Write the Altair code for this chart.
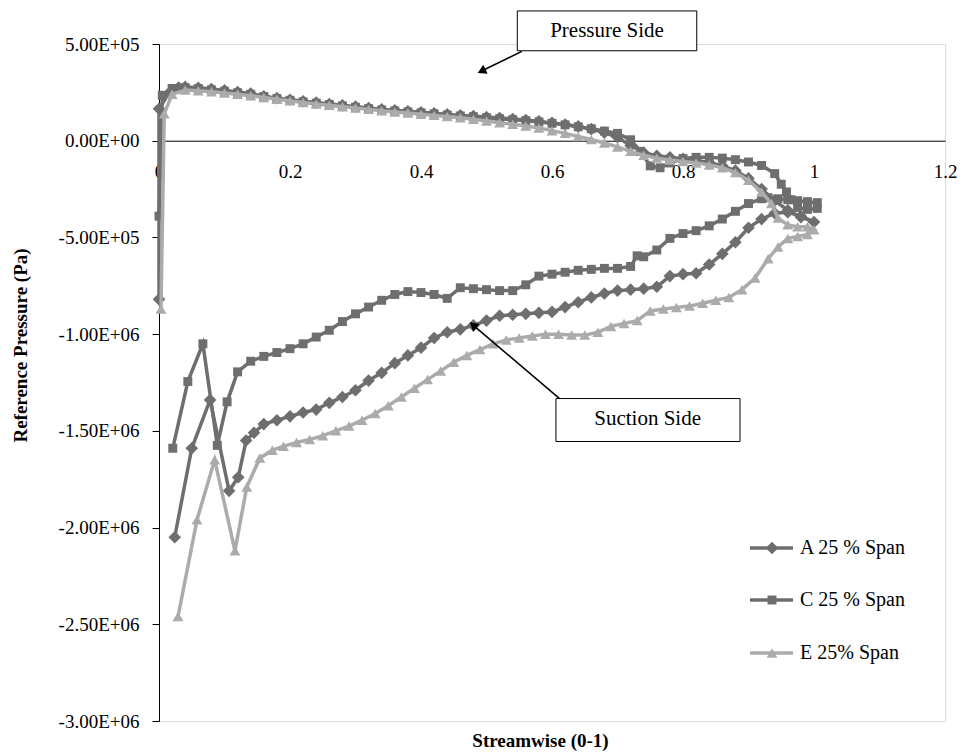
import altair as alt
import pandas as pd

SERIES = ["A 25 % Span", "C 25 % Span", "E 25% Span"]

# ---- data (streamwise position, reference pressure in Pa), in drawing order ----
A_X = [0.000, 0.000, 0.015, 0.030,
       0.04, 0.06, 0.08, 0.10, 0.12, 0.14, 0.16, 0.18, 0.20, 0.22, 0.24, 0.26, 0.28, 0.30,
       0.32, 0.34, 0.36, 0.38, 0.40, 0.42, 0.44, 0.46, 0.48, 0.50, 0.52, 0.54, 0.56, 0.58,
       0.60, 0.62, 0.64, 0.66, 0.68, 0.70, 0.72, 0.74, 0.76, 0.78, 0.80, 0.82, 0.84, 0.86,
       0.88, 0.90, 0.92, 0.94, 0.96, 0.98, 1.00,
       0.98, 0.96, 0.94, 0.92, 0.90, 0.88, 0.86, 0.84, 0.82, 0.80, 0.78, 0.76, 0.74, 0.72,
       0.70, 0.68, 0.66, 0.64, 0.62, 0.60, 0.58, 0.56, 0.54, 0.52, 0.50, 0.48, 0.46, 0.44,
       0.42, 0.40, 0.38, 0.36, 0.34, 0.32, 0.30, 0.28, 0.26, 0.24, 0.22, 0.20, 0.18, 0.16,
       0.145, 0.133, 0.121, 0.107, 0.078, 0.050, 0.024]
A_P = [-8.2e5, 1.65e5, 2.45e5, 2.75e5,
       2.78e5, 2.74e5, 2.67e5, 2.60e5, 2.52e5, 2.44e5, 2.30e5, 2.20e5, 2.12e5, 2.04e5, 1.97e5, 1.90e5, 1.83e5, 1.76e5,
       1.69e5, 1.62e5, 1.57e5, 1.52e5, 1.47e5, 1.42e5, 1.36e5, 1.31e5, 1.27e5, 1.22e5, 1.17e5, 1.12e5, 1.07e5, 1.00e5,
       0.92e5, 0.84e5, 0.74e5, 0.60e5, 0.42e5, 0.18e5, -0.25e5, -0.62e5, -0.78e5, -0.86e5, -0.93e5, -1.02e5, -1.12e5, -1.30e5,
       -1.55e5, -1.95e5, -2.50e5, -3.10e5, -3.60e5, -3.95e5, -4.20e5,
       -3.90e5, -3.70e5, -3.75e5, -4.05e5, -4.50e5, -5.25e5, -5.85e5, -6.40e5, -6.85e5, -6.90e5, -7.00e5, -7.55e5, -7.65e5, -7.70e5,
       -7.75e5, -7.90e5, -8.10e5, -8.35e5, -8.60e5, -8.85e5, -8.90e5, -8.95e5, -9.00e5, -9.05e5, -9.30e5, -9.55e5, -9.75e5, -9.90e5,
       -1.02e6, -1.07e6, -1.11e6, -1.15e6, -1.20e6, -1.24e6, -1.29e6, -1.325e6, -1.355e6, -1.39e6, -1.405e6, -1.425e6, -1.445e6, -1.465e6,
       -1.51e6, -1.55e6, -1.74e6, -1.81e6, -1.34e6, -1.59e6, -2.05e6]

C_X = [0.000, 0.005, 0.020,
       0.04, 0.06, 0.08, 0.10, 0.12, 0.14, 0.16, 0.18, 0.20, 0.22, 0.24, 0.26, 0.28, 0.30,
       0.32, 0.34, 0.36, 0.38, 0.40, 0.42, 0.44, 0.46, 0.48, 0.50, 0.52, 0.54, 0.56, 0.58,
       0.60, 0.62, 0.64, 0.66, 0.68, 0.70,
       0.72, 0.735, 0.75, 0.765, 0.78, 0.80, 0.82, 0.84, 0.86, 0.88, 0.90, 0.92, 0.94, 0.95,
       0.958, 0.965, 0.975, 0.99, 1.005, 1.005, 0.99, 0.975, 0.96, 0.945,
       0.93, 0.92, 0.90, 0.88, 0.86, 0.84, 0.82, 0.80, 0.78, 0.76, 0.74, 0.73, 0.72, 0.70,
       0.68, 0.66, 0.64, 0.62, 0.60, 0.58, 0.56, 0.54, 0.52, 0.50, 0.48, 0.46, 0.44, 0.42,
       0.40, 0.38, 0.36, 0.34, 0.32, 0.30, 0.28, 0.26, 0.24, 0.22, 0.20, 0.18, 0.16, 0.14,
       0.12, 0.104, 0.089, 0.067, 0.044, 0.021]
C_P = [-3.9e5, 2.35e5, 2.70e5,
       2.74e5, 2.70e5, 2.63e5, 2.56e5, 2.48e5, 2.40e5, 2.28e5, 2.18e5, 2.09e5, 2.01e5, 1.94e5, 1.87e5, 1.80e5, 1.73e5,
       1.66e5, 1.59e5, 1.54e5, 1.49e5, 1.44e5, 1.39e5, 1.33e5, 1.28e5, 1.24e5, 1.19e5, 1.14e5, 1.09e5, 1.04e5, 0.97e5,
       0.90e5, 0.82e5, 0.72e5, 0.62e5, 0.50e5, 0.38e5,
       0.05e5, -0.55e5, -1.30e5, -1.40e5, -1.15e5, -0.92e5, -0.86e5, -0.86e5, -0.90e5, -0.98e5, -1.10e5, -1.28e5, -1.70e5, -2.25e5,
       -2.65e5, -3.05e5, -3.45e5, -3.55e5, -3.50e5, -3.20e5, -3.15e5, -3.10e5, -3.05e5, -3.00e5,
       -2.95e5, -3.00e5, -3.25e5, -3.65e5, -4.05e5, -4.40e5, -4.65e5, -4.80e5, -5.05e5, -5.65e5, -6.00e5, -5.95e5, -6.50e5, -6.60e5,
       -6.60e5, -6.65e5, -6.70e5, -6.80e5, -6.90e5, -7.00e5, -7.45e5, -7.75e5, -7.75e5, -7.70e5, -7.65e5, -7.60e5, -8.15e5, -7.95e5,
       -7.85e5, -7.80e5, -7.95e5, -8.25e5, -8.60e5, -8.95e5, -9.35e5, -9.80e5, -1.015e6, -1.05e6, -1.075e6, -1.095e6, -1.115e6, -1.14e6,
       -1.195e6, -1.35e6, -1.575e6, -1.05e6, -1.245e6, -1.59e6]

E_X = [0.003, 0.008, 0.020,
       0.04, 0.06, 0.08, 0.10, 0.12, 0.14, 0.16, 0.18, 0.20, 0.22, 0.24, 0.26, 0.28, 0.30,
       0.32, 0.34, 0.36, 0.38, 0.40, 0.42, 0.44, 0.46, 0.48, 0.50, 0.52, 0.54, 0.56, 0.58,
       0.60, 0.62, 0.64, 0.66, 0.68, 0.70, 0.72, 0.74, 0.76, 0.78, 0.80, 0.82, 0.84, 0.86,
       0.88, 0.90, 0.92,
       0.935, 0.945, 0.96, 0.975, 0.99, 1.00, 0.99, 0.975, 0.96,
       0.945, 0.93,
       0.91, 0.89, 0.87, 0.85, 0.83, 0.81, 0.79, 0.77, 0.75, 0.73, 0.71, 0.69, 0.67, 0.65,
       0.63, 0.61, 0.59, 0.57, 0.55, 0.53, 0.51, 0.49, 0.47, 0.45, 0.43, 0.41, 0.39, 0.37,
       0.35, 0.33, 0.31, 0.29, 0.27, 0.25, 0.23, 0.21, 0.19,
       0.173, 0.154, 0.134, 0.116, 0.085, 0.058, 0.029]
E_P = [-8.7e5, 1.40e5, 2.40e5,
       2.62e5, 2.58e5, 2.53e5, 2.47e5, 2.40e5, 2.33e5, 2.24e5, 2.14e5, 2.06e5, 1.98e5, 1.90e5, 1.83e5, 1.76e5, 1.69e5,
       1.62e5, 1.55e5, 1.49e5, 1.43e5, 1.37e5, 1.31e5, 1.25e5, 1.19e5, 1.11e5, 1.02e5, 0.93e5, 0.85e5, 0.76e5, 0.66e5,
       0.52e5, 0.38e5, 0.22e5, 0.06e5, -0.12e5, -0.32e5, -0.55e5, -0.75e5, -0.90e5, -1.00e5, -1.08e5, -1.15e5, -1.25e5, -1.40e5,
       -1.65e5, -2.05e5, -2.65e5,
       -3.25e5, -4.00e5, -4.35e5, -4.45e5, -4.45e5, -4.60e5, -4.85e5, -4.95e5, -5.05e5,
       -5.50e5, -6.10e5,
       -7.10e5, -7.70e5, -8.10e5, -8.25e5, -8.40e5, -8.55e5, -8.62e5, -8.70e5, -8.80e5, -9.30e5, -9.45e5, -9.60e5, -9.90e5, -1.005e6,
       -1.005e6, -1.00e6, -1.00e6, -1.01e6, -1.02e6, -1.03e6, -1.05e6, -1.08e6, -1.11e6, -1.145e6, -1.19e6, -1.235e6, -1.28e6, -1.325e6,
       -1.37e6, -1.41e6, -1.445e6, -1.475e6, -1.50e6, -1.525e6, -1.545e6, -1.56e6, -1.58e6,
       -1.60e6, -1.64e6, -1.79e6, -2.12e6, -1.65e6, -1.96e6, -2.46e6]

X_TICKS = [0, 0.2, 0.4, 0.6, 0.8, 1.0, 1.2]
Y_TICKS = [5e5, 0, -5e5, -1e6, -1.5e6, -2e6, -2.5e6, -3e6]

# callout annotations (data coordinates)
CALLOUT_TEXT = ["Pressure Side", "Suction Side"]
BOX_X = [0.547, 0.606]
BOX_X2 = [0.821, 0.887]
BOX_P = [6.71e5, -1.333e6]
BOX_P2 = [4.65e5, -1.555e6]
TEXT_X = [0.684, 0.746]
TEXT_P = [5.66e5, -1.441e6]
ARROW_X = [0.554, 0.612]
ARROW_P = [4.62e5, -1.335e6]
HEAD_X = [0.4925, 0.4795]
HEAD_P = [3.60e5, -0.953e6]
HEAD_ANGLE = [244.5, 310.2]

# ---- styles ----
COLORS = ["#6e6e6e", "#6e6e6e", "#ababab"]
SHAPES = ["diamond", "square", "triangle-up"]
SIZES = [160, 80, 120]
FONT = "Liberation Serif"

for xs, ps in [(A_X, A_P), (C_X, C_P), (E_X, E_P)]:
    assert len(xs) == len(ps)

rows = []
for name, xs, ps in zip(SERIES, [A_X, C_X, E_X], [A_P, C_P, E_P]):
    for i, (x, p) in enumerate(zip(xs, ps)):
        rows.append({"series": name, "idx": i, "x": x, "p": p})
df = pd.DataFrame(rows)

H = 677
W = 786
zero_offset = -(H - H * (5e5 / 3.5e6))

x_axis = alt.Axis(
    values=X_TICKS, format="~g", offset=zero_offset, ticks=False, grid=False,
    domainColor="#000000", domainWidth=1, labelFlush=False,
    labelFont=FONT, labelFontSize=19, labelColor="#000000", labelPadding=22,
    title="Streamwise (0-1)", titleFont=FONT, titleFontSize=19, titleFontWeight="bold",
    titleColor="#000000", titleX=381, titleY=600, titleBaseline="middle", titleAlign="center",
)
y_axis = alt.Axis(
    values=Y_TICKS, grid=False, domainColor="#000000", domainWidth=1,
    tickColor="#000000", tickSize=7, labelPadding=13,
    labelExpr="(datum.value < 0 ? '-' : '') + upper(replace(format(abs(datum.value), '.2e'), 'e+', 'e+0'))",
    labelFont=FONT, labelFontSize=19, labelColor="#000000",
    title="Reference Pressure (Pa)", titleFont=FONT, titleFontSize=19, titleFontWeight="bold",
    titleColor="#000000", titleX=-139, titleY=301, titleAngle=270, titleBaseline="middle", titleAlign="center",
)
xs_ = alt.Scale(domain=[0, 1.2], nice=False, zero=False)
ys_ = alt.Scale(domain=[-3e6, 5e5], nice=False, zero=False)


def X(field="x"):
    return alt.X(f"{field}:Q", scale=xs_, axis=x_axis)


def Y(field="p"):
    return alt.Y(f"{field}:Q", scale=ys_, axis=y_axis)


layers = []
for name, color, shape, size in zip(SERIES, COLORS, SHAPES, SIZES):
    sub = df[df["series"] == name]
    base = alt.Chart(sub)
    layers.append(base.mark_line(color=color, strokeWidth=3.5).encode(x=X(), y=Y(), order="idx:Q"))
    layers.append(base.mark_point(shape=shape, filled=True, size=size, color=color, opacity=1,
                                  strokeWidth=0).encode(x=X(), y=Y()))

ann = pd.DataFrame({
    "label": CALLOUT_TEXT, "bx": BOX_X, "bx2": BOX_X2, "bp": BOX_P, "bp2": BOX_P2,
    "tx": TEXT_X, "tp": TEXT_P, "ax": ARROW_X, "ap": ARROW_P, "hx": HEAD_X, "hp": HEAD_P,
    "angle": HEAD_ANGLE,
})
annc = alt.Chart(ann)
layers.append(annc.mark_rule(color="#000000", strokeWidth=1.6).encode(
    x=X("ax"), y=Y("ap"), x2="hx:Q", y2="hp:Q"))
layers.append(annc.mark_point(shape="triangle-up", filled=True, size=100, color="#000000",
                              opacity=1, strokeWidth=0).encode(
    x=X("hx"), y=Y("hp"), angle=alt.Angle("angle:Q", scale=None)))
layers.append(annc.mark_rect(fill="#ffffff", stroke="#000000", strokeWidth=1).encode(
    x=X("bx"), x2="bx2:Q", y=Y("bp"), y2="bp2:Q"))
layers.append(annc.mark_text(font=FONT, fontSize=21, color="#000000", align="center",
                             baseline="middle").encode(x=X("tx"), y=Y("tp"), text="label:N"))

# legend (manual, bottom-right)
LEG_Y = [504, 556, 609]
for name, color, shape, size, ly in zip(SERIES, COLORS, SHAPES, SIZES, LEG_Y):
    ld = alt.Chart(pd.DataFrame({"label": [name]}))
    layers.append(ld.mark_rule(color=color, strokeWidth=3.5).encode(
        x=alt.value(591), x2=alt.value(634), y=alt.value(ly)))
    layers.append(ld.mark_point(shape=shape, filled=True, size=size, color=color, opacity=1,
                                strokeWidth=0).encode(x=alt.value(613), y=alt.value(ly)))
    layers.append(ld.mark_text(font=FONT, fontSize=20, color="#000000", align="left",
                               baseline="middle").encode(x=alt.value(641), y=alt.value(ly),
                                                         text="label:N"))

chart = alt.layer(*layers).properties(
    width=W, height=H,
    padding={"left": 159, "top": 44, "right": 19, "bottom": 32},
    autosize=alt.AutoSizeParams(type="none"),
).configure_view(stroke=None).configure(background="#ffffff")

chart.save("out.html", embed_options={"renderer": "svg", "actions": False})
